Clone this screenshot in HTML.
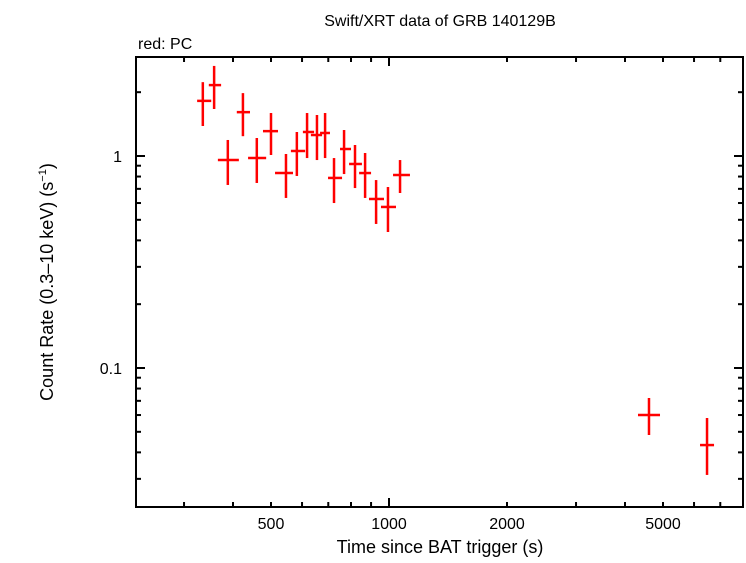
<!DOCTYPE html>
<html><head><meta charset="utf-8"><style>
body{margin:0;background:#fff}
svg text{font-family:"Liberation Sans",sans-serif;fill:#000}
</style></head><body>
<svg id="chart" width="746" height="558" xmlns="http://www.w3.org/2000/svg">
<text x="440" y="26" font-size="16" text-anchor="middle">Swift/XRT data of GRB 140129B</text>
<text x="138" y="49" font-size="16">red: PC</text>
<text x="440" y="553" font-size="18" text-anchor="middle">Time since BAT trigger (s)</text>
<text transform="translate(53,282) rotate(-90)" font-size="18" text-anchor="middle">Count Rate (0.3–10 keV) (s<tspan font-size="11" dy="-7">−1</tspan><tspan dy="7">)</tspan></text>
<g id="ticks"></g>
<g id="marks"></g>
<rect x="136" y="57" width="607" height="450" fill="none" stroke="#000" stroke-width="2"/>
</svg>
<script>
const times=[335,358,388,424,460,500,546,582,618,655,687,724,768,819,869,927,994,1067,4605,6476];
const timeLo=[324,347,366,409,437,477,512,562,603,632,667,699,750,791,839,889,954,1024,4317,6215];
const timeHi=[352,373,414,442,486,521,569,611,644,675,707,759,800,853,900,971,1042,1131,4913,6748];
const rates=[1.82,2.16,0.957,1.61,0.978,1.31,0.831,1.056,1.298,1.256,1.284,0.788,1.079,0.917,0.831,0.627,0.575,0.814,0.060,0.0433];
const rateLo=[1.385,1.666,0.730,1.24,0.746,1.011,0.634,0.805,0.978,0.957,0.978,0.600,0.822,0.706,0.634,0.478,0.438,0.669,0.0483,0.0313];
const rateHi=[2.23,2.66,1.19,1.98,1.216,1.595,1.022,1.298,1.595,1.561,1.595,0.978,1.326,1.127,1.033,0.770,0.714,0.957,0.0722,0.0581];
const xTickLabels=[500,1000,2000,5000];
const yTickLabels=[0.1,1];
const NS="http://www.w3.org/2000/svg";
const L=136,R=743,T=57,B=507;
function xs(t){return 389+392*(Math.log10(t)-3);}
function ys(v){return 156-212*Math.log10(v);}
function mk(tag,attrs,parent){const e=document.createElementNS(NS,tag);for(const k in attrs)e.setAttribute(k,attrs[k]);parent.appendChild(e);return e;}
const tg=document.getElementById('ticks');
for(let d=100;d<=10000;d*=10){for(let m=1;m<10;m++){const t=d*m;const x=xs(t);if(x<=L+1||x>=R-1)continue;const len=(m===1)?9:5;
const a=mk('line',{x1:x,x2:x,y1:B,y2:B-len,stroke:'#000','stroke-width':2},tg);


const b=mk('line',{x1:x,x2:x,y1:T,y2:T+len,stroke:'#000','stroke-width':2},tg);

}}
for(let d=0.01;d<=10;d*=10){for(let m=1;m<10;m++){const v=d*m;const y=ys(v);if(y<=T+1||y>=B-1)continue;const len=(m===1)?9:5;
const a=mk('line',{x1:L,x2:L+len,y1:y,y2:y,stroke:'#000','stroke-width':2},tg);


const b=mk('line',{x1:R,x2:R-len,y1:y,y2:y,stroke:'#000','stroke-width':2},tg);

}}
xTickLabels.forEach(t=>{const e=mk('text',{x:xs(t),y:529,'font-size':16,'text-anchor':'middle'},tg);e.textContent=t;

});
yTickLabels.forEach(v=>{const e=mk('text',{x:122,y:ys(v)+6,'font-size':16,'text-anchor':'end'},tg);e.textContent=v;

});
const mg=document.getElementById('marks');
times.forEach((t,i)=>{const g=mk('g',{},mg);


const x=xs(t),y=ys(rates[i]);
mk('line',{x1:xs(timeLo[i]),x2:xs(timeHi[i]),y1:y,y2:y,stroke:'#f00','stroke-width':2.5},g);
mk('line',{x1:x,x2:x,y1:ys(rateLo[i]),y2:ys(rateHi[i]),stroke:'#f00','stroke-width':2.5},g);});
</script>
</body></html>
